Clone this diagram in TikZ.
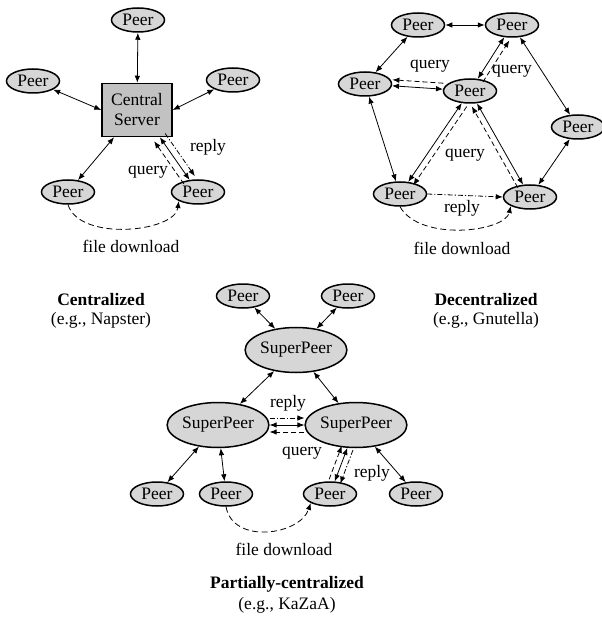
\documentclass[tikz,border=0pt]{standalone}
\usepackage{fontspec}
\setmainfont{Liberation Serif}
\usetikzlibrary{arrows.meta,shapes.geometric}
\begin{document}
\begin{tikzpicture}[x=1pt,y=-1pt,
  font=\fontsize{17.5}{20}\selectfont,
  peer/.style={ellipse,draw,line width=1.5pt,fill=gray!32,minimum width=53pt,minimum height=24pt,inner sep=0pt},
  super/.style={peer,minimum width=89pt,minimum height=45pt},
  server/.style={rectangle,draw,line width=1.5pt,fill=gray!48,minimum width=70pt,minimum height=53pt,align=center,inner sep=0pt},
  tip/.tip={Latex[length=7pt,width=5.5pt]},
  link/.style={line width=0.8pt,tip-tip},
  qry/.style={line width=0.8pt,dash pattern=on 5pt off 3pt,-tip},
  rpl/.style={line width=0.8pt,dash pattern=on 5pt off 2pt on 1.2pt off 2pt,-tip},
  dl/.style={line width=0.8pt,dash pattern=on 6pt off 3.5pt,-tip},
  lbl/.style={inner sep=0pt},
  ttl/.style={inner sep=0pt,font=\fontsize{17.5}{20}\selectfont\bfseries},
]
\useasboundingbox (0,0) rectangle (601,617);

% ---------------- Centralized ----------------
\node[peer] (cT) at (138,20) {Peer};
\node[peer] (cL) at (33,81) {Peer};
\node[peer] (cR) at (233,80) {Peer};
\node[server] (cS) at (137,110) {Central\\Server};
\node[peer] (cBL) at (68,192) {Peer};
\node[peer] (cBR) at (198,192) {Peer};

\draw[link] (cT) -- (cS);
\draw[link] (cL) -- (cS.west);
\draw[link] (cR) -- (cS.east);
\draw[link] (cBL) -- (cS);
\draw[link] (cS.-50) -- (cBR);
\draw[qry,transform canvas={xshift=-5.7pt,yshift=-4pt}] (cBR) -- (cS.-50);
\draw[rpl,transform canvas={xshift=5.3pt,yshift=3.7pt}] (cS.-50) -- (cBR);
\draw[dl] (cBL.south) .. controls (80,242) and (175,232) .. (cBR.south west);

\node[lbl] (cRep) at (208,147) {reply};
\node[lbl] (cQry) at (148,172) {query};
\node[lbl] (cDl) at (131,246) {file download};

\node[ttl] (cTitle) at (101,300) {Centralized};
\node[lbl] (cSub) at (101,320) {(e.g., Napster)};

% ---------------- Decentralized ----------------
\node[peer] (d1) at (418,25) {Peer};
\node[peer] (d2) at (512,25) {Peer};
\node[peer] (d3) at (365,84) {Peer};
\node[peer] (d4) at (470,91) {Peer};
\node[peer] (d5) at (578,127) {Peer};
\node[peer] (d6) at (400,194) {Peer};
\node[peer] (d7) at (530,197) {Peer};

\draw[link] (d1) -- (d2);
\draw[link] (d1) -- (d3);
\draw[link] (d3) -- (d4);
\draw[link] (d2) -- (d4);
\draw[link] (d2) -- (d5);
\draw[link] (d3) -- (d6);
\draw[link] (d4) -- (d6);
\draw[link] (d4) -- (d7);
\draw[link] (d5) -- (d7);
\draw[qry,transform canvas={xshift=0.4pt,yshift=6pt}] (d4) -- (d3);
\draw[qry,transform canvas={xshift=5.1pt,yshift=-3.2pt}] (d4) -- (d2);
\draw[qry,transform canvas={xshift=5pt,yshift=-3.4pt}] (d4) -- (d6);
\draw[qry,transform canvas={xshift=-5.2pt,yshift=-3pt}] (d7) -- (d4);
\draw[rpl] (d6.east) -- (d7.west);
\draw[dl] (d6.south) .. controls (420,242) and (505,232) .. (d7.south west);

\node[lbl] (dQ1) at (430,66) {query};
\node[lbl] (dQ2) at (512,71) {query};
\node[lbl] (dQ3) at (465,155) {query};
\node[lbl] (dRep) at (462,208) {reply};
\node[lbl] (dDl) at (462,248) {file download};

\node[ttl] (dTitle) at (486,300) {Decentralized};
\node[lbl] (dSub) at (486,320) {(e.g., Gnutella)};

% ---------------- Partially-centralized ----------------
\node[peer] (pTL) at (243,296) {Peer};
\node[peer] (pTR) at (348,296) {Peer};
\node[super] (sT) at (296,350) {SuperPeer};
\node[super] (sL) at (218,425) {SuperPeer};
\node[super] (sR) at (356,425) {SuperPeer};
\node[peer] (pB1) at (157,494) {Peer};
\node[peer] (pB2) at (226,494) {Peer};
\node[peer] (pB3) at (330,494) {Peer};
\node[peer] (pB4) at (416,494) {Peer};

\draw[link] (pTL) -- (sT);
\draw[link] (pTR) -- (sT);
\draw[link] (sT) -- (sL);
\draw[link] (sT) -- (sR);
\draw[link] (sL) -- (sR);
\draw[link] (sL) -- (pB1);
\draw[link] (sL) -- (pB2);
\draw[link] (sR) -- (pB3);
\draw[link] (sR) -- (pB4);
\draw[rpl,transform canvas={yshift=7pt}] (sL) -- (sR);
\draw[qry,transform canvas={yshift=-7pt}] (sR) -- (sL);
\draw[qry,transform canvas={xshift=-5.6pt,yshift=2.1pt}] (pB3) -- (sR);
\draw[rpl,transform canvas={xshift=5.6pt,yshift=-2.1pt}] (sR) -- (pB3);
\draw[dl] (pB2.south) .. controls (233,545) and (300,535) .. (pB3.south west);

\node[lbl] (pRep1) at (288,403) {reply};
\node[lbl] (pQry) at (302,453) {query};
\node[lbl] (pRep2) at (372,473) {reply};
\node[lbl] (pDl) at (284,549) {file download};

\node[ttl] (pTitle) at (287,584) {Partially-centralized};
\node[lbl] (pSub) at (287,605) {(e.g., KaZaA)};
\end{tikzpicture}
\end{document}
